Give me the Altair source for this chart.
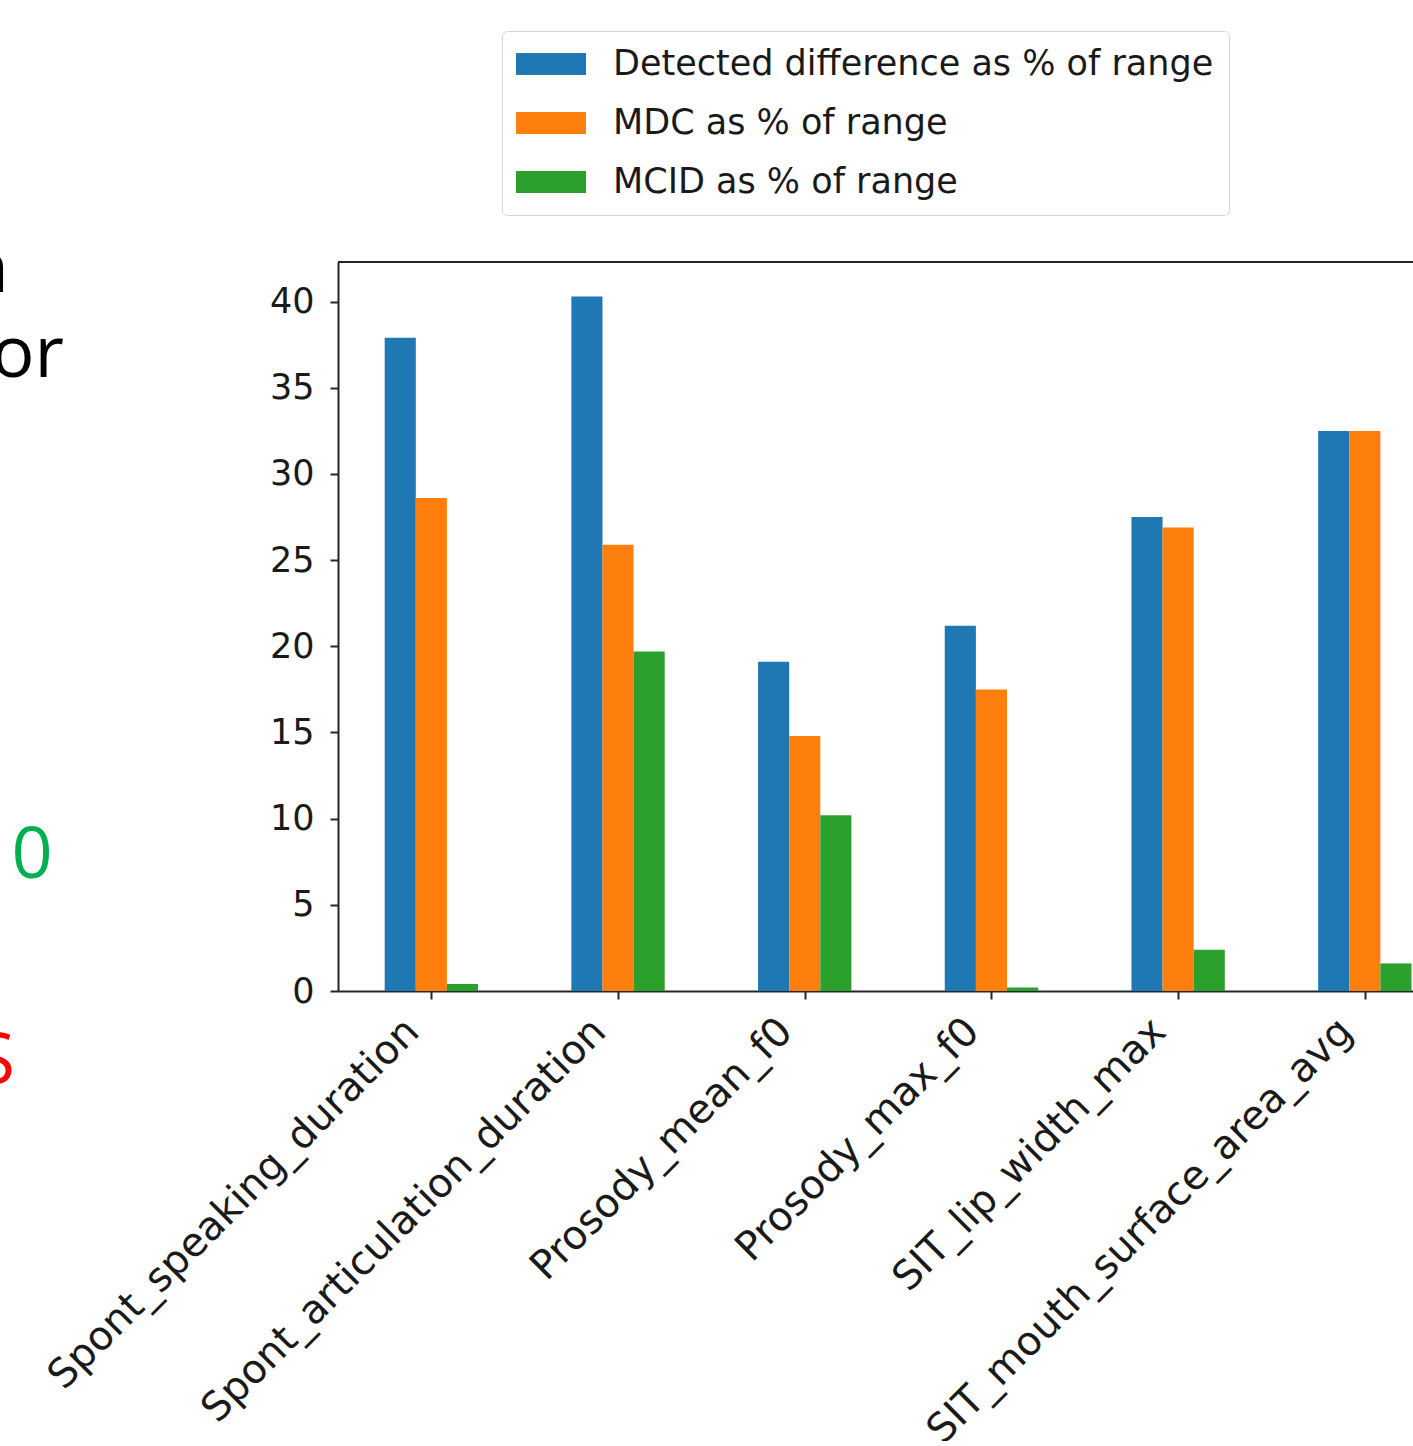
import json
import altair as alt
import pandas as pd

categories = ["Spont_speaking_duration", "Spont_articulation_duration", "Prosody_mean_f0",
              "Prosody_max_f0", "SIT_lip_width_max", "SIT_mouth_surface_area_avg"]
series = ["Detected difference as % of range", "MDC as % of range", "MCID as % of range"]
detected = [37.9, 40.3, 19.1, 21.2, 27.5, 32.5]
mdc = [28.6, 25.9, 14.8, 17.5, 26.9, 32.5]
mcid = [0.4, 19.7, 10.2, 0.2, 2.4, 1.6]
colors = ["#1f77b4", "#ff7f0e", "#2ca02c"]
y_ticks = [0, 5, 10, 15, 20, 25, 30, 35, 40]

# fragments of slide text visible at the left edge
frag_text = ["n", "or", "0", "S"]
frag_color = ["#000000", "#000000", "#00b050", "#ff0000"]

rows = []
for si, (name, vals) in enumerate(zip(series, [detected, mdc, mcid])):
    for ci, (cat, v) in enumerate(zip(categories, vals)):
        rows.append({"category": cat, "idx": ci, "series": name, "s": si, "value": v})
df = pd.DataFrame(rows)

W, H = 1075, 729
AX = "#262626"
label_expr = json.dumps(categories) + "[datum.value]"

bars = alt.Chart(df).transform_calculate(
    x0="datum.idx + (datum.s - 1) / 6 - 1 / 12",
    x1="datum.idx + (datum.s - 1) / 6 + 1 / 12",
).mark_bar(clip=True).encode(
    x=alt.X("x0:Q", title=None,
            scale=alt.Scale(domain=[-0.5, 5.258], nice=False, zero=False),
            axis=alt.Axis(values=list(range(6)), labelExpr=label_expr, grid=False,
                          labelAngle=-45, labelAlign="right", labelBaseline="bottom",
                          labelPadding=40, labelOffset=-5, labelFontSize=40, tickSize=8,
                          tickWidth=2, domainWidth=2, domainColor=AX, tickColor=AX,
                          labelColor="#1a1a1a", labelFont="DejaVu Sans", labelOverlap=False,
                          labelBound=False, labelFlush=False, labelLimit=2000)),
    x2="x1:Q",
    y=alt.Y("value:Q", title=None,
            scale=alt.Scale(domain=[0, 42.3], nice=False),
            axis=alt.Axis(values=y_ticks, grid=False, labelFontSize=35, tickSize=8,
                          tickWidth=2, domainWidth=2, domainColor=AX, tickColor=AX,
                          labelColor="#1a1a1a", labelPadding=16, labelFont="DejaVu Sans",
                          labelOverlap=False)),
    y2=alt.datum(0),
    color=alt.Color("series:N", scale=alt.Scale(domain=series, range=colors),
                    legend=alt.Legend(title=None, orient="none", legendX=164, legendY=-231,
                                      symbolType="M-1.944,-0.611H1.944V0.611H-1.944Z",
                                      symbolSize=1296, symbolOffset=16,
                                      symbolStrokeWidth=0, labelFontSize=35,
                                      labelFont="DejaVu Sans", labelColor="#1a1a1a",
                                      labelOffset=44, padding=15, rowPadding=23,
                                      strokeColor="#d6d6d6", fillColor="white",
                                      cornerRadius=5, labelLimit=1000)),
)

top_border = alt.Chart(pd.DataFrame({"a": [0]})).mark_rule(color=AX, strokeWidth=2).encode(
    x=alt.value(0), x2=alt.value(W), y=alt.value(0)
)

frag_layers = []
frag_pos = [(-329, 30, "right"), (-274, 115, "right"), (-306, 616, "center"), (-323, 822, "right")]
for t, c, (px, py, al) in zip(frag_text, frag_color, frag_pos):
    frag_layers.append(
        alt.Chart(pd.DataFrame({"t": [t]})).mark_text(
            font="Open Sans", fontSize=72, color=c, align=al, baseline="alphabetic"
        ).encode(text="t:N", x=alt.value(px), y=alt.value(py))
    )

chart = alt.layer(bars, top_border, *frag_layers).properties(
    width=W, height=H,
    padding={"left": 338, "top": 262, "right": 0, "bottom": 450},
    autosize="none",
).configure_view(stroke=None)

chart.save("out.html", embed_options={"renderer": "svg", "actions": False})
